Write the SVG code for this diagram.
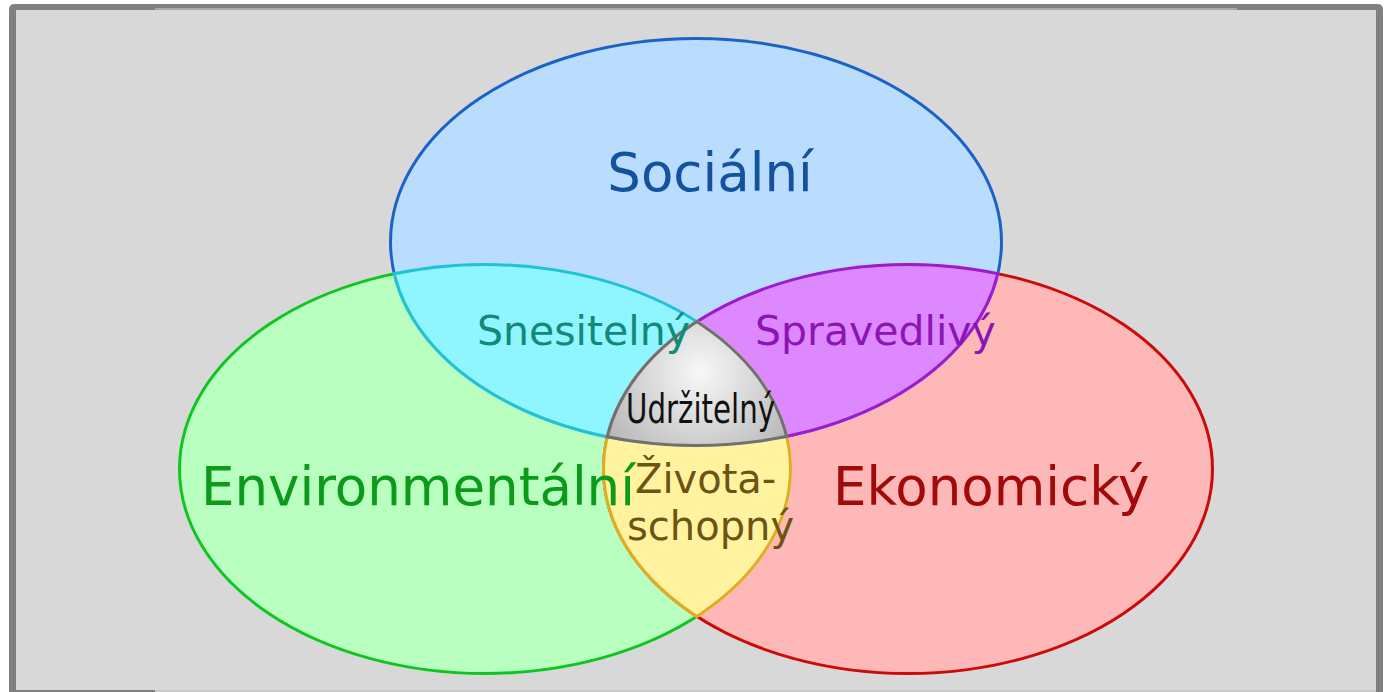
<svg xmlns="http://www.w3.org/2000/svg" xmlns:xlink="http://www.w3.org/1999/xlink" width="1386" height="692" viewBox="0 0 1386 692">
<style>
text{font-family:"DejaVu Sans","Liberation Sans",sans-serif}
.big{font-size:53px}
.mid{font-size:41px}
.sm{font-size:40px}
.nf{fill:none}
</style>
<defs>
<clipPath id="cS"><ellipse cx="696" cy="242" rx="307" ry="205"/></clipPath>
<clipPath id="cE"><ellipse cx="485" cy="469" rx="307" ry="206"/></clipPath>
<clipPath id="cK"><ellipse cx="908" cy="469" rx="306" ry="206"/></clipPath>
<ellipse id="eS" cx="696" cy="242" rx="307" ry="205"/>
<ellipse id="eE" cx="485" cy="469" rx="307" ry="206"/>
<ellipse id="eK" cx="908" cy="469" rx="306" ry="206"/>
<radialGradient id="gG" gradientUnits="userSpaceOnUse" cx="700" cy="372" r="130">
<stop offset="0" stop-color="#f8f8f8"/>
<stop offset="1" stop-color="#ababab"/>
</radialGradient>
</defs>
<rect x="0" y="0" width="1386" height="692" fill="#ffffff"/>
<rect x="9" y="4" width="1374" height="700" rx="5" fill="#808080"/>
<rect x="16" y="10" width="1360" height="680" fill="#d8d8d8"/>
<rect x="155" y="8" width="1082" height="2" fill="#a8a8a8"/>
<rect x="155" y="690" width="1221" height="2" fill="#c8c8c8"/>

<g id="environmentalni" clip-path="url(#cE)">
<use xlink:href="#eE" fill="#b8ffc0" stroke="#12c422" stroke-width="6"/>
</g>
<g id="ekonomicky" clip-path="url(#cK)">
<use xlink:href="#eK" fill="#ffb8b8" stroke="#cc0a0a" stroke-width="6"/>
</g>
<g id="socialni" clip-path="url(#cS)">
<use xlink:href="#eS" fill="#b9dcff" stroke="#1a62c8" stroke-width="6"/>
</g>

<g id="snesitelny" clip-path="url(#cS)"><g clip-path="url(#cE)">
<use xlink:href="#eE" fill="#8ff5ff"/>
<use xlink:href="#eE" class="nf" stroke="#22c2d6" stroke-width="6"/>
<use xlink:href="#eS" class="nf" stroke="#22c2d6" stroke-width="6"/>
</g></g>
<g id="spravedlivy" clip-path="url(#cS)"><g clip-path="url(#cK)">
<use xlink:href="#eK" fill="#dd88ff"/>
<use xlink:href="#eK" class="nf" stroke="#9a1ccc" stroke-width="6"/>
<use xlink:href="#eS" class="nf" stroke="#9a1ccc" stroke-width="6"/>
</g></g>
<g id="zivotaschopny" clip-path="url(#cE)"><g clip-path="url(#cK)">
<use xlink:href="#eK" fill="#fff3a0"/>
<use xlink:href="#eK" class="nf" stroke="#e0ac22" stroke-width="6"/>
<use xlink:href="#eE" class="nf" stroke="#e0ac22" stroke-width="6"/>
</g></g>
<g id="udrzitelny" clip-path="url(#cS)"><g clip-path="url(#cE)"><g clip-path="url(#cK)">
<use xlink:href="#eK" fill="url(#gG)"/>
<use xlink:href="#eK" class="nf" stroke="#707070" stroke-width="6"/>
<use xlink:href="#eE" class="nf" stroke="#707070" stroke-width="6"/>
<use xlink:href="#eS" class="nf" stroke="#707070" stroke-width="6"/>
</g></g></g>

<g id="labels">
<text class="big" x="710" y="191" text-anchor="middle" fill="#14529f">Sociální</text>
<text class="big" x="201" y="505" fill="#0c9a1a">Environmentální</text>
<text class="big" x="833" y="505" fill="#a20a0a">Ekonomický</text>
<text class="mid" x="477" y="345" fill="#118a78">Snesitelný</text>
<text class="mid" x="755" y="345" fill="#8a16b2">Spravedlivý</text>
<text class="mid" x="626" y="423" font-size="42" textLength="149" lengthAdjust="spacingAndGlyphs" fill="#111111">Udržitelný</text>
<text class="sm" x="635" y="493" fill="#6e5412">Života-</text>
<text class="sm" x="627" y="540" fill="#6e5412">schopný</text>
</g>
</svg>
